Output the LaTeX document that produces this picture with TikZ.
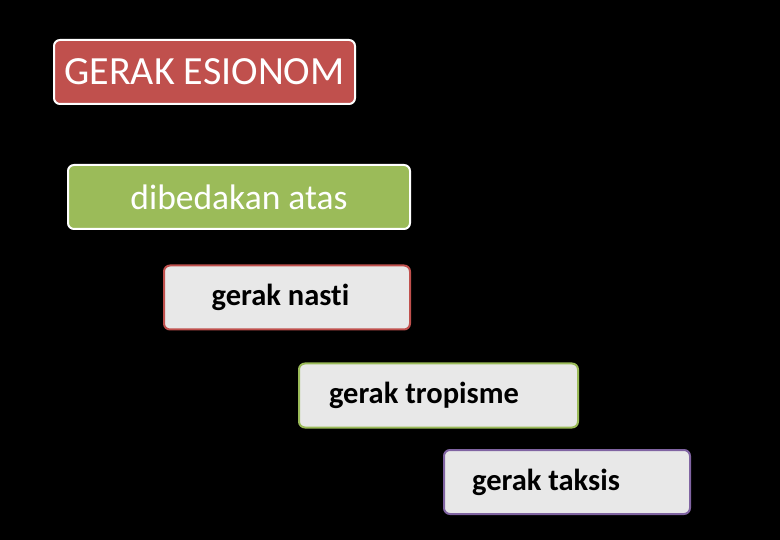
\documentclass[tikz,border=0pt]{standalone}
\usepackage{fontspec}
\setmainfont[Ligatures=NoCommon]{Carlito}
\definecolor{esred}{HTML}{C0504D}
\definecolor{esgreen}{HTML}{9BBB59}
\definecolor{espurple}{HTML}{8064A2}
\definecolor{esgray}{HTML}{E8E8E8}
\tikzset{
  headbox/.style={draw=white,line width=2pt,rounded corners=6pt,text=white,minimum height=64pt,inner sep=0pt},
  leafbox/.style={fill=esgray,line width=2pt,rounded corners=6pt,text=black,minimum height=64pt,inner sep=0pt,font=\fontsize{30.5}{34}\selectfont\bfseries}
}
\begin{document}
\begin{tikzpicture}[x=1pt,y=-1pt]
\fill[black] (0,0) rectangle (780,540);
\useasboundingbox (0,0) rectangle (780,540);
%\draw[step=20,gray,very thin] (0,0) grid (780,540);
\node[headbox,fill=esred,minimum width=301pt,font=\fontsize{40}{44}\selectfont] (esionom) at (204.5,72) {GERAK ESIONOM};
\node[headbox,fill=esgreen,minimum width=342pt,font=\fontsize{35.5}{40}\selectfont] (atas) at (239,197) {dibedakan atas};
\node[leafbox,draw=esred,minimum width=246pt] (nasti) at (287,297.5) {\hspace*{-13pt}gerak nasti};
\node[leafbox,draw=esgreen,minimum width=279pt] (tropisme) at (438.5,395.5) {\hspace*{-29pt}gerak tropisme};
\node[leafbox,draw=espurple,minimum width=246pt] (taksis) at (567,482) {\hspace*{-42pt}gerak taksis};
\end{tikzpicture}
\end{document}
